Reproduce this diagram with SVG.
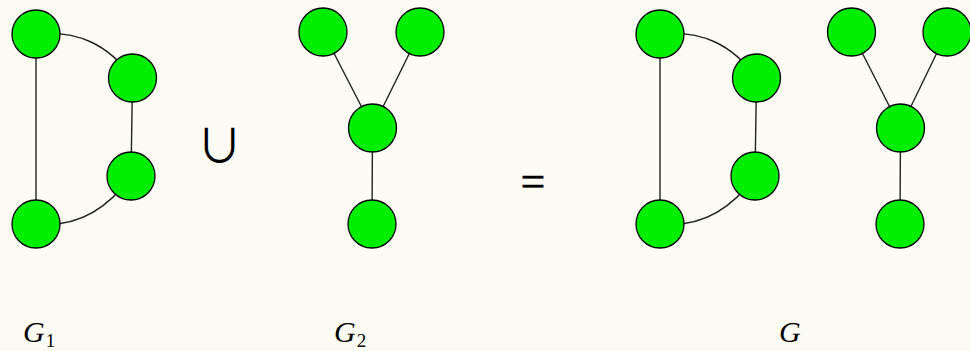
<svg xmlns="http://www.w3.org/2000/svg" width="970" height="351" viewBox="0 0 970 351">
<style>
.n{fill:#00ef00;stroke:#000;stroke-width:1.3}
.e{fill:none;stroke:#222;stroke-width:1.4}
.lbl{font-family:"Liberation Serif",serif;font-style:italic;font-size:30px;fill:#000}
.sub{font-style:normal;font-size:19px}
</style>
<rect width="970" height="351" fill="#fcfcf5"/>
<g id="connectors">
<path class="e" d="M36,34 V224"/>
<path class="e" d="M36,34 C77,30 108,44 132.5,78"/>
<path class="e" d="M132.5,78 L131,176"/>
<path class="e" d="M36,224 C77,228 107,210 131,176"/>
<path class="e" d="M323,32 L372.5,128 L420,32 M372.5,128 L372,224"/>
<path class="e" d="M660,34 V224"/>
<path class="e" d="M660,34 C701,30 732,44 756.5,78"/>
<path class="e" d="M756.5,78 L755,176"/>
<path class="e" d="M660,224 C701,228 731,210 755,176"/>
<path class="e" d="M851.5,32 L900.5,128 L947,32 M900.5,128 L900,224"/>
</g>
<g id="g1a"><circle class="n" cx="36" cy="34" r="24"/></g>
<g id="g1b"><circle class="n" cx="132.5" cy="78" r="24"/></g>
<g id="g1c"><circle class="n" cx="131" cy="176" r="24"/></g>
<g id="g1d"><circle class="n" cx="36" cy="224" r="24"/></g>
<g id="g2a"><circle class="n" cx="323" cy="32" r="24"/></g>
<g id="g2b"><circle class="n" cx="420" cy="32" r="24"/></g>
<g id="g2c"><circle class="n" cx="372.5" cy="128" r="24"/></g>
<g id="g2d"><circle class="n" cx="372" cy="224" r="24"/></g>
<g id="ga"><circle class="n" cx="660" cy="34" r="24"/></g>
<g id="gb"><circle class="n" cx="756.5" cy="78" r="24"/></g>
<g id="gc"><circle class="n" cx="755" cy="176" r="24"/></g>
<g id="gd"><circle class="n" cx="660" cy="224" r="24"/></g>
<g id="ge"><circle class="n" cx="851.5" cy="32" r="24"/></g>
<g id="gf"><circle class="n" cx="947" cy="32" r="24"/></g>
<g id="gg"><circle class="n" cx="900.5" cy="128" r="24"/></g>
<g id="gh"><circle class="n" cx="900" cy="224" r="24"/></g>
<text x="219.5" y="162" font-family="Noto Sans CJK JP, sans-serif" font-size="46" text-anchor="middle" fill="#000">∪</text>
<text x="533" y="195.5" font-family="Liberation Serif, serif" font-size="44" text-anchor="middle" fill="#000" stroke="#000" stroke-width="0.4">=</text>
<text class="lbl" x="23" y="342">G<tspan class="sub" dx="1" dy="5">1</tspan></text>
<text class="lbl" x="334" y="342">G<tspan class="sub" dx="1" dy="5">2</tspan></text>
<text class="lbl" x="779" y="342">G</text>
</svg>
